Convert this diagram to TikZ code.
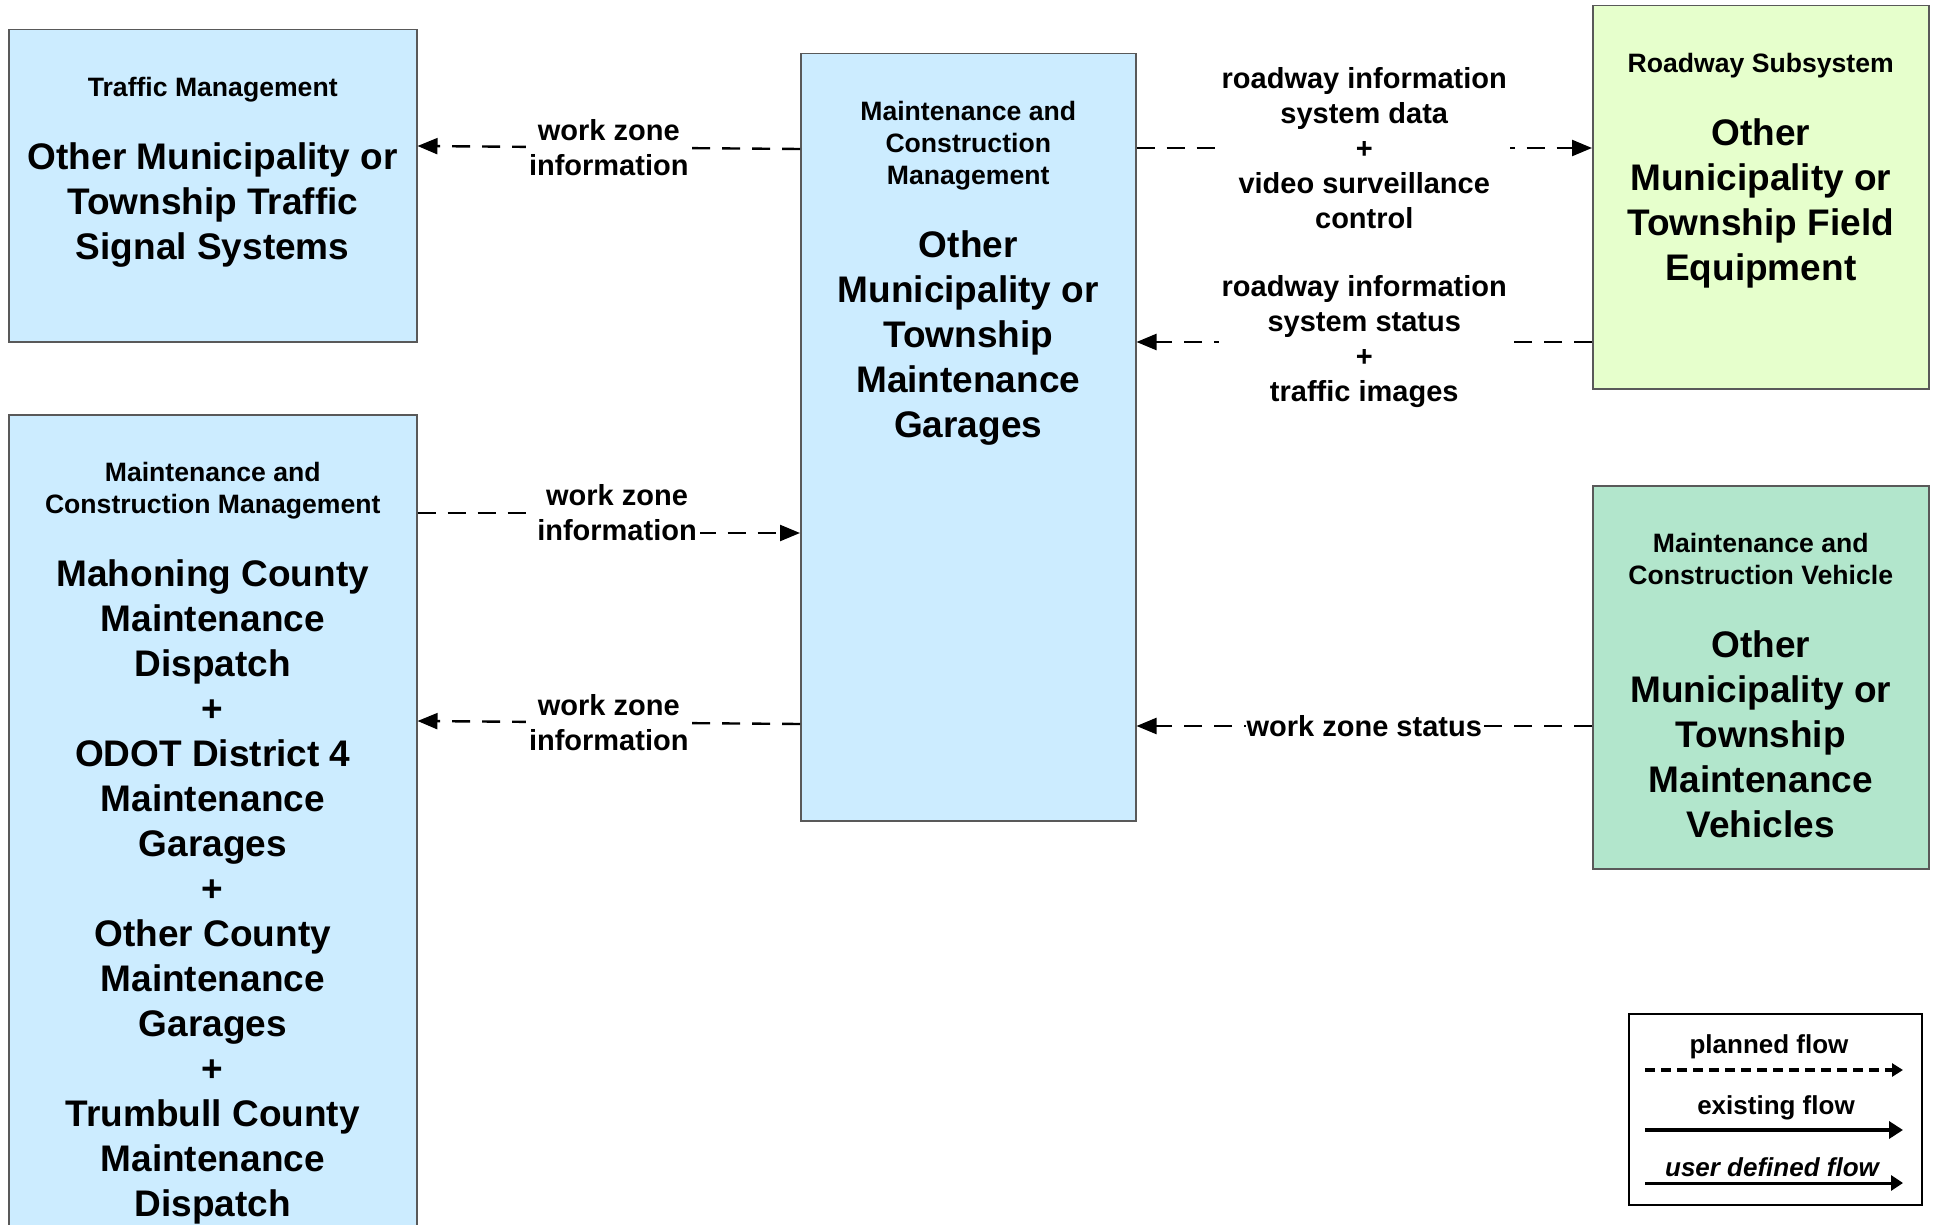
\documentclass[tikz,border=0pt]{standalone}
\usepackage{fontspec}
\setmainfont{Liberation Sans}
\usepackage{xcolor}
\usepackage{tikz}
\usetikzlibrary{arrows.meta,positioning}
\definecolor{mgtblue}{RGB}{204,236,255}
\definecolor{fieldgreen}{RGB}{230,255,204}
\definecolor{vehgreen}{RGB}{178,230,204}

\begin{document}
\begin{tikzpicture}[x=1pt,y=-1pt,
  sysbox/.style={draw=black!65,line width=1.5pt,anchor=north west,inner sep=0pt},
  hdr/.style={align=center,inner sep=0pt,font=\fontsize{26.6}{32}\selectfont\bfseries},
  big/.style={align=center,inner sep=0pt,font=\fontsize{37}{45}\selectfont\bfseries},
  lbl/.style={align=center,fill=white,inner xsep=3pt,inner ysep=1pt,font=\fontsize{29}{35}\selectfont\bfseries},
  flow/.style={line width=2.4pt,dash pattern=on 18pt off 12pt,-{Triangle[length=20pt,width=16pt]}},
  legtxt/.style={inner sep=0pt,font=\fontsize{26}{30}\selectfont\bfseries}]
  % sheet is 1939x1225 px, 1px = 1pt, y grows downwards
  \useasboundingbox (0,0) rectangle (1939,1225);
  % subsystem boxes
  \node[sysbox,fill=mgtblue,minimum width=408pt,minimum height=312pt] (tm) at (8,29) {};
  \node[sysbox,fill=mgtblue,minimum width=408pt,minimum height=840pt] (mcm) at (8,414) {};
  \node[sysbox,fill=mgtblue,minimum width=335pt,minimum height=767pt] (ctr) at (800,53) {};
  \node[sysbox,fill=fieldgreen,minimum width=336pt,minimum height=383pt] (rds) at (1592,5) {};
  \node[sysbox,fill=vehgreen,minimum width=336pt,minimum height=383pt] (mcv) at (1592,485) {};
  % class line + element name in each box
  \node[hdr,below=48pt of tm.north] (tmhdr) {Traffic Management};
  \node[big,below=113pt of tm.north] (tmname) {Other Municipality or\\Township Traffic\\Signal Systems};
  \node[hdr,below=48pt of mcm.north] (mcmhdr) {Maintenance and\\Construction Management};
  \node[big,below=145pt of mcm.north] (mcmname) {Mahoning County\\Maintenance\\Dispatch\\+\\ODOT District 4\\Maintenance\\Garages\\+\\Other County\\Maintenance\\Garages\\+\\Trumbull County\\Maintenance\\Dispatch};
  \node[hdr,below=48pt of ctr.north] (ctrhdr) {Maintenance and\\Construction\\Management};
  \node[big,below=177pt of ctr.north] (ctrname) {Other\\Municipality or\\Township\\Maintenance\\Garages};
  \node[hdr,below=48pt of rds.north] (rdshdr) {Roadway Subsystem};
  \node[big,below=113pt of rds.north] (rdsname) {Other\\Municipality or\\Township Field\\Equipment};
  \node[hdr,below=48pt of mcv.north] (mcvhdr) {Maintenance and\\Construction Vehicle};
  \node[big,below=145pt of mcv.north] (mcvname) {Other\\Municipality or\\Township\\Maintenance\\Vehicles};
  % flows
  \draw[flow] (ctr.west |- 0,149) -- node[lbl] (wzinfoa) {work zone\\information} (tm.east |- 0,146);
  \draw[flow] (mcm.east |- 0,513) -- (617,513) -- node[lbl,pos=0] (wzinfob) {work zone\\information} (617,533) -- (ctr.west |- 0,533);
  \draw[flow] (ctr.west |- 0,724) -- node[lbl] (wzinfoc) {work zone\\information} (mcm.east |- 0,721);
  \draw[flow] (ctr.east |- 0,148) -- node[lbl] (rdsdata) {roadway information\\system data\\+\\video surveillance\\control} (rds.west |- 0,148);
  \draw[flow] (rds.west |- 0,342) -- node[lbl] (rdsstat) {roadway information\\system status\\+\\traffic images} (ctr.east |- 0,342);
  \draw[flow] (mcv.west |- 0,726) -- node[lbl,inner xsep=1pt] (wzstat) {work zone status} (ctr.east |- 0,726);
  % legend
  \node[sysbox,draw=black,line width=2pt,fill=white,minimum width=293pt,minimum height=191pt] (legend) at (1628,1013) {};
  \node[legtxt] (lgplanned) at (1769,1047) {planned flow};
  \node[legtxt] (lgexist) at (1776,1108) {existing flow};
  \node[legtxt,font=\fontsize{26}{30}\selectfont\bfseries\itshape] (lguser) at (1772,1167) {user defined flow};
  \coordinate (lgpa) at (1645,1070); \coordinate (lgpb) at (1903,1070);
  \coordinate (lgea) at (1645,1130); \coordinate (lgeb) at (1903,1130);
  \coordinate (lgua) at (1645,1183); \coordinate (lgub) at (1903,1183);
  \draw[line width=4pt,dash pattern=on 10pt off 6pt,-{Triangle[length=11pt,width=13pt]}] (lgpa) -- (lgpb);
  \draw[line width=4pt,-{Triangle[length=14pt,width=17pt]}] (lgea) -- (lgeb);
  \draw[line width=3pt,-{Triangle[length=12pt,width=15pt]}] (lgua) -- (lgub);
\end{tikzpicture}
\end{document}
